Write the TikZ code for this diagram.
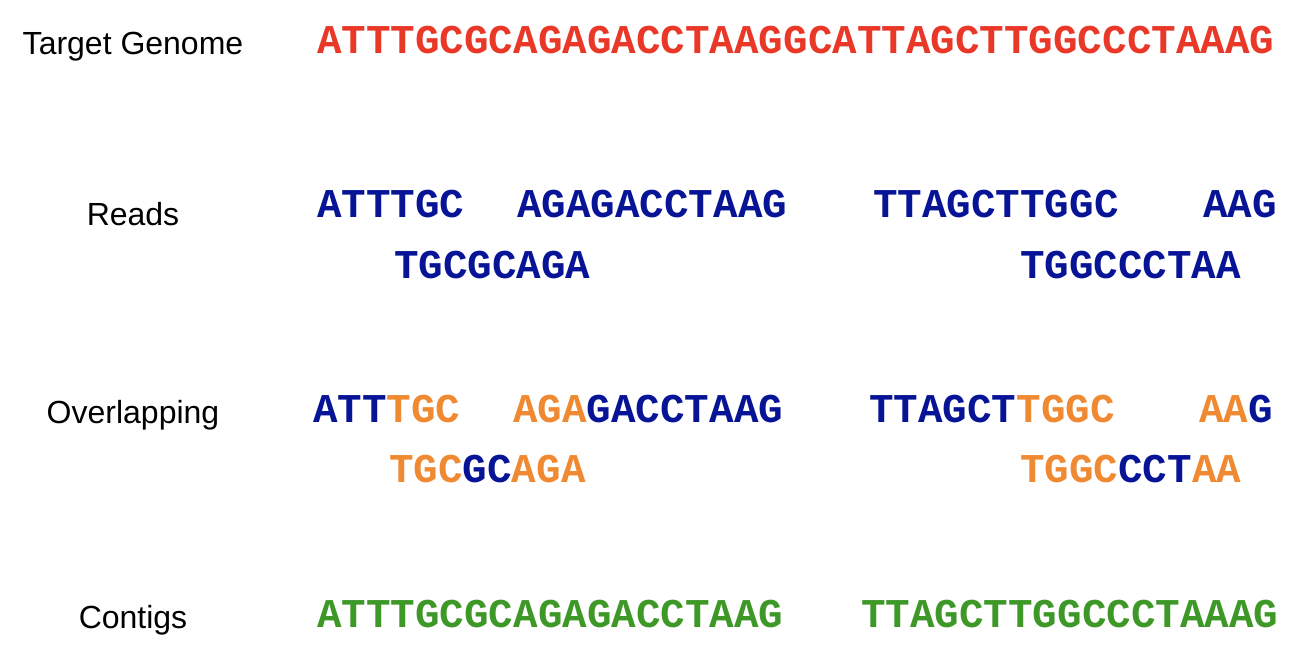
\documentclass[tikz,border=0pt]{standalone}
\usepackage{fontspec}
\setmainfont{Liberation Sans}
\newfontfamily\seqfont{Liberation Mono}
\definecolor{genred}{RGB}{234,56,40}
\definecolor{readblue}{RGB}{8,20,150}
\definecolor{ovorange}{RGB}{240,138,50}
\definecolor{contgreen}{RGB}{62,152,40}
\tikzset{
  lbl/.style={anchor=base, inner sep=0pt, font=\fontsize{32}{32}\selectfont, text=black},
  seq/.style={anchor=base west, inner sep=0pt, font=\seqfont\bfseries\fontsize{40.9}{40.9}\selectfont},
  genome/.style={seq, text=genred},
  readseq/.style={seq, text=readblue},
  contig/.style={seq, text=contgreen}
}
\newcommand{\ov}[1]{\textcolor{ovorange}{#1}}
\begin{document}
\begin{tikzpicture}[x=1pt,y=-1pt]
\useasboundingbox (0,0) rectangle (1312,656);
% labels
\node[lbl] (lgen) at (133,54) {Target Genome};
\node[lbl] (lreads) at (133,225) {Reads};
\node[lbl] (lover) at (133,423) {Overlapping};
\node[lbl] (lcont) at (133,628) {Contigs};
% genome
\node[genome] (gen) at (317,53) {ATTTGCGCAGAGACCTAAGGCATTAGCTTGGCCCTAAAG};
% reads
\node[readseq] (r1) at (317,217) {ATTTGC};
\node[readseq] (r2) at (517,217) {AGAGACCTAAG};
\node[readseq] (r3) at (873,217) {TTAGCTTGGC};
\node[readseq] (r4) at (1203,217) {AAG};
\node[readseq] (r5) at (394,278) {TGCGCAGA};
\node[readseq] (r6) at (1020,278) {TGGCCCTAA};
% overlapping
\node[readseq] (o1) at (313,422) {ATT\ov{TGC}};
\node[readseq] (o2) at (513,422) {\ov{AGA}GACCTAAG};
\node[readseq] (o3) at (869,422) {TTAGCT\ov{TGGC}};
\node[readseq] (o4) at (1199,422) {\ov{AA}G};
\node[readseq] (o5) at (389,482) {\ov{TGC}GC\ov{AGA}};
\node[readseq] (o6) at (1020,482) {\ov{TGGC}CCT\ov{AA}};
% contigs
\node[contig] (c1) at (317,627) {ATTTGCGCAGAGACCTAAG};
\node[contig] (c2) at (861,627) {TTAGCTTGGCCCTAAAG};
\end{tikzpicture}
\end{document}
